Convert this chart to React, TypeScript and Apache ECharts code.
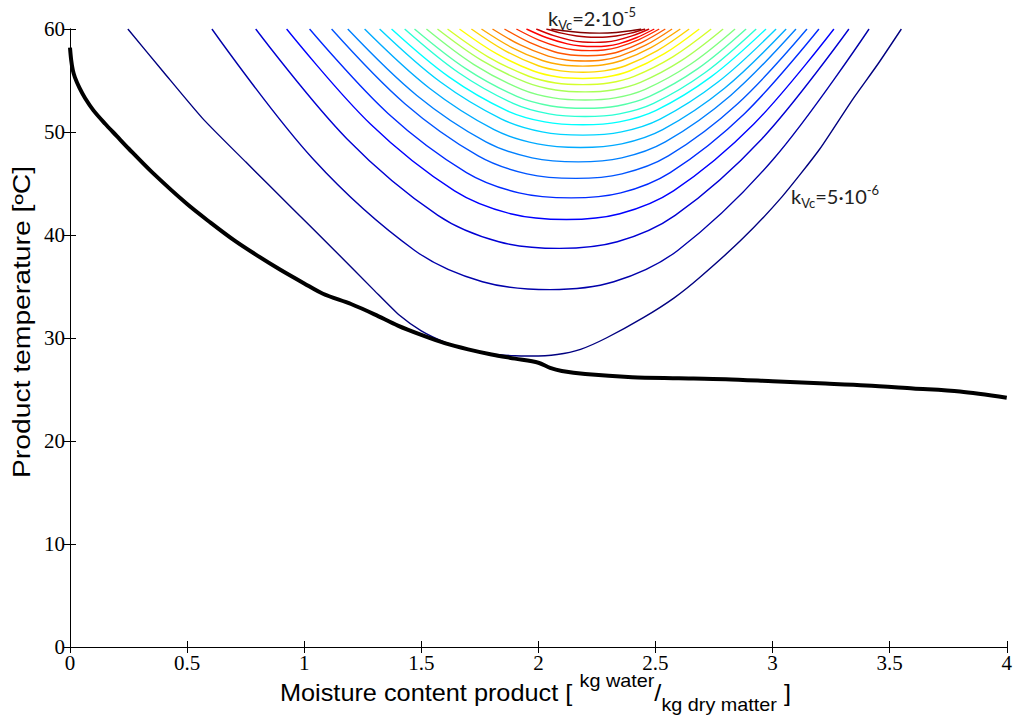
import React, { useEffect, useRef } from "react";
import * as echarts from "echarts";

// Product temperature trajectory (thick black curve)
const temperatureCurve: [number, number][] = [
  [0, 58.2], [0.005, 57.0], [0.012, 56.0], [0.021, 55.3], [0.04, 54.3], [0.064, 53.3],
  [0.1, 52.1], [0.15, 50.8], [0.2, 49.6], [0.25, 48.4], [0.35, 46.1],
  [0.5, 43.0], [0.6, 41.2], [0.7, 39.5], [0.8, 38.0], [0.9, 36.6], [1.0, 35.3],
  [1.08, 34.3], [1.2, 33.3], [1.3, 32.3], [1.4, 31.2], [1.5, 30.3], [1.6, 29.5],
  [1.7, 28.9], [1.8, 28.4], [1.9, 28.0], [2.0, 27.6], [2.05, 27.1], [2.1, 26.8],
  [2.2, 26.5], [2.4, 26.2], [2.6, 26.1], [2.8, 26.0], [3.0, 25.8], [3.2, 25.6],
  [3.4, 25.4], [3.6, 25.1], [3.8, 24.8], [4.0, 24.2],
];

// Iso-k_Vc contour lines, outermost (k = 5e-6) to innermost (k = 2e-5)
const c01: [number, number][] = [[0.247,60],[0.4,55.8],[0.567,51.3],[0.75,47.1],[0.94,42.8],[1.13,38.5],[1.3,34.6],[1.407,32.2],[1.5,30.7],[1.6,29.6],[1.69,28.9],[1.8,28.45],[1.9,28.27],[1.97,28.25],[2.08,28.4],[2.18,28.9],[2.29,30.0],[2.45,32.0],[2.58,33.9],[2.69,35.9],[2.87,39.6],[3.04,43.7],[3.2,48.3],[3.34,53.1],[3.45,56.6],[3.55,60]];
const c02: [number, number][] = [[0.606,60],[1.039,47.35],[1.472,38.5],[1.761,35.46],[2.05,34.7],[2.322,35.46],[2.595,38.5],[3.003,47.35],[3.412,60]];
const c03: [number, number][] = [[0.793,60],[1.182,49.35],[1.571,41.9],[1.831,39.34],[2.09,38.7],[2.337,39.34],[2.584,41.9],[2.955,49.35],[3.326,60]];
const c04: [number, number][] = [[0.925,60],[1.284,50.75],[1.642,44.28],[1.881,42.06],[2.12,41.5],[2.348,42.06],[2.577,44.28],[2.919,50.75],[3.262,60]];
const c05: [number, number][] = [[1.023,60],[1.358,51.8],[1.693,46.06],[1.917,44.09],[2.14,43.6],[2.352,44.09],[2.563,46.06],[2.881,51.8],[3.198,60]];
const c06: [number, number][] = [[1.117,60],[1.43,52.75],[1.743,47.68],[1.951,45.94],[2.16,45.5],[2.357,45.94],[2.555,47.68],[2.851,52.75],[3.147,60]];
const c07: [number, number][] = [[1.186,60],[1.481,53.55],[1.776,49.04],[1.973,47.49],[2.17,47.1],[2.356,47.49],[2.542,49.04],[2.821,53.55],[3.1,60]];
const c08: [number, number][] = [[1.258,60],[1.535,54.25],[1.811,50.23],[1.996,48.85],[2.18,48.5],[2.356,48.85],[2.531,50.23],[2.795,54.25],[3.058,60]];
const c09: [number, number][] = [[1.322,60],[1.582,54.85],[1.843,51.25],[2.016,50.01],[2.19,49.7],[2.355,50.01],[2.52,51.25],[2.767,54.85],[3.015,60]];
const c10: [number, number][] = [[1.373,60],[1.618,55.35],[1.863,52.1],[2.027,50.98],[2.19,50.7],[2.346,50.98],[2.503,52.1],[2.737,55.35],[2.972,60]];
const c11: [number, number][] = [[1.429,60],[1.66,55.75],[1.892,52.78],[2.046,51.76],[2.2,51.5],[2.346,51.76],[2.492,52.78],[2.711,55.75],[2.93,60]];
const c12: [number, number][] = [[1.471,60],[1.69,56.15],[1.908,53.46],[2.054,52.53],[2.2,52.3],[2.337,52.53],[2.475,53.46],[2.681,56.15],[2.887,60]];
const c13: [number, number][] = [[1.522,60],[1.725,56.55],[1.929,54.14],[2.064,53.31],[2.2,53.1],[2.328,53.31],[2.456,54.14],[2.648,56.55],[2.84,60]];
const c14: [number, number][] = [[1.569,60],[1.758,56.95],[1.948,54.82],[2.074,54.08],[2.2,53.9],[2.318,54.08],[2.436,54.82],[2.612,56.95],[2.789,60]];
const c15: [number, number][] = [[1.612,60],[1.785,57.3],[1.959,55.41],[2.074,54.76],[2.19,54.6],[2.3,54.76],[2.409,55.41],[2.574,57.3],[2.738,60]];
const c16: [number, number][] = [[1.663,60],[1.821,57.6],[1.979,55.92],[2.085,55.34],[2.19,55.2],[2.289,55.34],[2.389,55.92],[2.538,57.6],[2.687,60]];
const c17: [number, number][] = [[1.714,60],[1.857,57.9],[2.0,56.43],[2.095,55.93],[2.19,55.8],[2.281,55.93],[2.372,56.43],[2.508,57.9],[2.644,60]];
const c18: [number, number][] = [[1.757,60],[1.887,58.2],[2.017,56.94],[2.103,56.51],[2.19,56.4],[2.273,56.51],[2.356,56.94],[2.481,58.2],[2.606,60]];
const c19: [number, number][] = [[1.804,60],[1.923,58.45],[2.042,57.37],[2.121,56.99],[2.2,56.9],[2.274,56.99],[2.348,57.37],[2.46,58.45],[2.571,60]];
const c20: [number, number][] = [[1.855,60],[1.962,58.7],[2.068,57.79],[2.139,57.48],[2.21,57.4],[2.276,57.48],[2.343,57.79],[2.442,58.7],[2.542,60]];
const c21: [number, number][] = [[1.906,60],[2.0,58.95],[2.094,58.22],[2.157,57.96],[2.22,57.9],[2.279,57.96],[2.338,58.22],[2.427,58.95],[2.516,60]];
const c22: [number, number][] = [[1.949,60],[2.036,59.15],[2.124,58.56],[2.182,58.35],[2.24,58.3],[2.291,58.35],[2.342,58.56],[2.418,59.15],[2.495,60]];
const c23: [number, number][] = [[1.991,60],[2.066,59.35],[2.14,58.9],[2.19,58.74],[2.24,58.7],[2.287,58.74],[2.333,58.9],[2.403,59.35],[2.473,60]];
const c24: [number, number][] = [[2.034,60],[2.099,59.6],[2.164,59.32],[2.207,59.22],[2.25,59.2],[2.291,59.22],[2.332,59.32],[2.394,59.6],[2.456,60]];
const c25: [number, number][] = [[2.055,60],[2.118,59.8],[2.18,59.66],[2.22,59.61],[2.26,59.6],[2.296,59.61],[2.332,59.66],[2.385,59.8],[2.439,60]];

const contourLines = [c01, c02, c03, c04, c05, c06, c07, c08, c09, c10, c11, c12, c13,
  c14, c15, c16, c17, c18, c19, c20, c21, c22, c23, c24, c25];

const xRange = [0, 4];
const yRange = [0, 60];

function clamp01(v: number) { return Math.max(0, Math.min(1, v)); }
function jet(t: number) {
  const r = clamp01(Math.min(4 * t - 1.5, -4 * t + 4.5));
  const g = clamp01(Math.min(4 * t - 0.5, -4 * t + 3.5));
  const b = clamp01(Math.min(4 * t + 0.5, -4 * t + 2.5));
  const h = (v: number) => Math.round(v * 255).toString(16).padStart(2, "0");
  return "#" + h(r) + h(g) + h(b);
}

const annRich = {
  k: { fontFamily: "Lato", fontSize: 20, lineHeight: 26, verticalAlign: "middle", fill: "#222" },
  s: { fontFamily: "Lato", fontSize: 13, lineHeight: 13, verticalAlign: "bottom", fill: "#222" },
  p: { fontFamily: "Lato", fontSize: 13, lineHeight: 13, verticalAlign: "top", fill: "#222" },
};

export default function App() {
  const ref = useRef<HTMLDivElement>(null);
  useEffect(() => {
    if (!ref.current) return;
    const chart = echarts.init(ref.current, undefined, { renderer: "svg" });
    const n = contourLines.length;
    const contourSeries = contourLines.map((d, i) => ({
      type: "line",
      data: d,
      showSymbol: false,
      symbol: "none",
      smooth: i === 0 ? 0.2 : 0.35,
      clip: true,
      lineStyle: { width: 1.4, color: jet(i / (n - 1)) },
      z: 2,
      silent: true,
    }));
    const tickLabel = {
      color: "#000",
      fontFamily: "'Liberation Serif', 'Times New Roman', serif",
      fontSize: 21,
    };
    const axisLine = { show: true, lineStyle: { color: "#000", width: 1 } };
    const axisTick = { show: true, inside: true, length: 6, lineStyle: { color: "#000" } };
    chart.setOption({
      animation: false,
      backgroundColor: "#fff",
      grid: { left: 70, right: 7, top: 29, bottom: 75, containLabel: false },
      xAxis: [
        { type: "value", min: xRange[0], max: xRange[1], interval: 0.5, position: "bottom",
          axisLine, axisTick, splitLine: { show: false },
          axisLabel: { ...tickLabel, margin: 5 } },
        { type: "value", min: xRange[0], max: xRange[1], interval: 0.5, position: "top",
          axisLine, axisTick, splitLine: { show: false }, axisLabel: { show: false } },
      ],
      yAxis: [
        { type: "value", min: yRange[0], max: yRange[1], interval: 10, position: "left",
          axisLine, axisTick, splitLine: { show: false },
          axisLabel: { ...tickLabel, margin: 5 } },
        { type: "value", min: yRange[0], max: yRange[1], interval: 10, position: "right",
          axisLine, axisTick, splitLine: { show: false }, axisLabel: { show: false } },
      ],
      series: [
        ...contourSeries,
        {
          type: "line",
          data: temperatureCurve,
          showSymbol: false,
          symbol: "none",
          smooth: 0.3,
          clip: true,
          lineStyle: { width: 4, color: "#000" },
          z: 3,
          silent: true,
        },
      ],
      graphic: [
        {
          type: "text", x: 280, y: 693, scaleX: 1.1,
          style: {
            text: "{m|Moisture content product [ }{p|kg water}{m|/}{s|kg dry matter}{m| ]}",
            fill: "#000",
            align: "left",
            verticalAlign: "middle",
            rich: {
              m: { fontFamily: "Liberation Sans", fontSize: 23, lineHeight: 42, verticalAlign: "middle", fill: "#000" },
              p: { fontFamily: "Liberation Sans", fontSize: 18, lineHeight: 18, verticalAlign: "top", fill: "#000" },
              s: { fontFamily: "Liberation Sans", fontSize: 18, lineHeight: 18, verticalAlign: "bottom", fill: "#000" },
            },
          },
        },
        {
          type: "text", x: 22, y: 322, rotation: Math.PI / 2, scaleX: 1.23,
          style: {
            text: "Product temperature [ºC]",
            fontFamily: "Liberation Sans", fontSize: 23, fill: "#000",
            align: "center", verticalAlign: "middle",
          },
        },
        {
          type: "text", left: 548, top: 5,
          style: { text: "{k|k}{s|Vc}{k|=2·10}{p|-5}", rich: annRich },
        },
        {
          type: "text", left: 791, top: 183,
          style: { text: "{k|k}{s|Vc}{k|=5·10}{p|-6}", rich: annRich },
        },
      ],
    });
    return () => chart.dispose();
  }, []);
  return (
    <div
      ref={ref}
      style={{ position: "fixed", left: 0, top: 0, width: 1015, height: 722, background: "#fff" }}
    />
  );
}
